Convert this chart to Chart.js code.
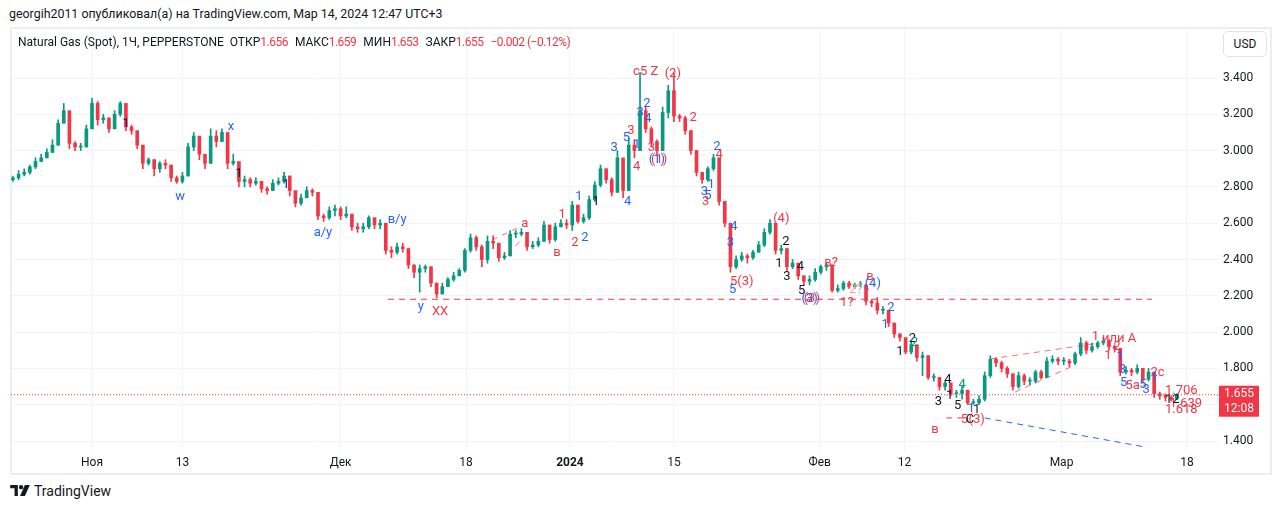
<!DOCTYPE html>
<html>
<head>
<meta charset="utf-8">
<script src="https://cdn.jsdelivr.net/npm/chart.js@4.4.1/dist/chart.umd.min.js"></script>
<style>
  body { margin: 0; width: 1281px; height: 510px; background: #fff; position: relative; overflow: hidden;
         font-family: Roboto, "Noto Sans", sans-serif; color: #131722; }
  #hdr { position: absolute; left: 9px; top: 5px; font-size: 12.4px; line-height: 18px; white-space: nowrap; }
  #frame { position: absolute; left: 10px; top: 27px; width: 1262px; height: 448px; box-sizing: border-box;
           border: 2px solid #eceef3; }
  #wrap { position: absolute; left: 11px; top: 29px; width: 1259px; height: 444px; }
  #legend { position: absolute; left: 18px; top: 33px; font-size: 12px; line-height: 18px; white-space: nowrap; z-index: 2; }
  #legend .v { color: #f23645; margin-right: 7px; letter-spacing: -0.5px; }
  #usd { position: absolute; left: 1223px; top: 31px; width: 44px; height: 26px; box-sizing: border-box;
         border: 1px solid #e0e3eb; border-radius: 5px; font-size: 12px; line-height: 24px; text-align: center; z-index: 2; background: #fff; }
  #foot { position: absolute; left: 10px; top: 482px; font-size: 14px; line-height: 18px; display: flex; align-items: center; gap: 4px; }
</style>
</head>
<body>
<div id="hdr">georgih2011 опубликовал(а) на TradingView.com, Мар 14, 2024 12:47 UTC+3</div>
<div id="frame"></div>
<div id="wrap"><canvas id="chart" width="1259" height="444"></canvas></div>
<div id="legend">Natural Gas (Spot), 1Ч, PEPPERSTONE&nbsp;&nbsp;ОТКР<span class="v">1.656</span>МАКС<span class="v">1.659</span>МИН<span class="v">1.653</span>ЗАКР<span class="v">1.655</span><span class="v">−0.002 (−0.12%)</span></div>
<div id="usd">USD</div>
<div id="foot">
  <svg width="20" height="12" viewBox="0 0 36 22"><path d="M0 0h14v20H8V6H0z M16 4a4 4 0 1 0 8 0a4 4 0 1 0 -8 0z M27 0h9l-9 20h-9z" fill="#131722"/></svg>
  <span>TradingView</span>
</div>
<script>
// hourly NG candles, sampled every half trading day (Nov 1 = day 0)
const firstDay = -7;
const step = 0.5;
const firstOpen = 2.84;

const closes = [
  2.85, 2.87, 2.88, 2.91, 2.94, 2.96, 2.99, 3.03, 3.15, 3.22,
  3.04, 3.02, 3.02, 3.12, 3.26, 3.17, 3.18, 3.12, 3.20, 3.26,
  3.13, 3.11, 3.03, 2.93, 2.95, 2.90, 2.93, 2.92, 2.85, 2.83,
  2.86, 3.02, 3.08, 2.98, 2.93, 3.08, 3.05, 3.10, 2.93, 2.94,
  2.83, 2.84, 2.82, 2.83, 2.79, 2.78, 2.82, 2.83, 2.86, 2.78,
  2.71, 2.74, 2.78, 2.77, 2.64, 2.63, 2.67, 2.68, 2.64, 2.65,
  2.58, 2.57, 2.58, 2.63, 2.59, 2.60, 2.45, 2.44, 2.47, 2.46,
  2.37, 2.33, 2.35, 2.36, 2.27, 2.21, 2.25, 2.29, 2.31, 2.34,
  2.45, 2.52, 2.47, 2.40, 2.50, 2.49, 2.41, 2.42, 2.54, 2.54,
  2.55, 2.47, 2.48, 2.50, 2.59, 2.51, 2.58, 2.60, 2.59, 2.70,
  2.61, 2.63, 2.73, 2.81, 2.90, 2.84, 2.77, 2.96, 2.78, 3.03,
  3.00, 3.22, 3.12, 3.05, 3.00, 3.21, 3.33, 3.19, 3.18, 3.11,
  3.00, 2.88, 2.84, 2.90, 2.96, 2.72, 2.60, 2.36, 2.40, 2.42,
  2.41, 2.44, 2.48, 2.55, 2.60, 2.45, 2.46, 2.36, 2.38, 2.31,
  2.28, 2.29, 2.33, 2.36, 2.37, 2.23, 2.24, 2.27, 2.25, 2.26,
  2.26, 2.17, 2.16, 2.12, 2.12, 2.05, 1.99, 1.97, 1.89, 1.93,
  1.86, 1.87, 1.75, 1.75, 1.70, 1.72, 1.66, 1.66, 1.68, 1.61,
  1.61, 1.63, 1.76, 1.85, 1.83, 1.80, 1.77, 1.70, 1.76, 1.73,
  1.73, 1.78, 1.75, 1.84, 1.85, 1.84, 1.84, 1.83, 1.88, 1.94,
  1.90, 1.92, 1.94, 1.95, 1.92, 1.91, 1.78, 1.79, 1.78, 1.80,
  1.74, 1.78, 1.66, 1.65, 1.64, 1.63, 1.655
];
const highs = [
  2.86, 2.89, 2.90, 2.92, 2.96, 2.98, 3.01, 3.06, 3.17, 3.26,
  3.14, 3.05, 3.04, 3.14, 3.29, 3.27, 3.20, 3.18, 3.22, 3.27,
  3.22, 3.14, 3.08, 3.03, 2.96, 2.95, 2.94, 2.95, 2.92, 2.86,
  2.88, 3.04, 3.10, 3.07, 2.98, 3.12, 3.11, 3.12, 3.08, 2.98,
  2.93, 2.86, 2.85, 2.85, 2.83, 2.80, 2.84, 2.85, 2.88, 2.86,
  2.77, 2.76, 2.80, 2.79, 2.76, 2.65, 2.69, 2.70, 2.69, 2.69,
  2.65, 2.60, 2.60, 2.64, 2.63, 2.62, 2.60, 2.47, 2.49, 2.49,
  2.46, 2.37, 2.37, 2.37, 2.36, 2.27, 2.27, 2.30, 2.33, 2.35,
  2.46, 2.54, 2.53, 2.48, 2.53, 2.53, 2.48, 2.44, 2.56, 2.56,
  2.57, 2.55, 2.50, 2.52, 2.61, 2.59, 2.60, 2.62, 2.62, 2.72,
  2.69, 2.65, 2.75, 2.83, 2.92, 2.90, 2.85, 3.00, 2.92, 3.07,
  3.06, 3.43, 3.24, 3.13, 3.06, 3.24, 3.36, 3.43, 3.20, 3.19,
  3.11, 3.00, 2.88, 2.91, 2.98, 2.96, 2.72, 2.60, 2.42, 2.44,
  2.43, 2.45, 2.50, 2.57, 2.62, 2.60, 2.48, 2.46, 2.40, 2.38,
  2.31, 2.31, 2.35, 2.37, 2.38, 2.37, 2.26, 2.28, 2.28, 2.27,
  2.28, 2.26, 2.18, 2.19, 2.14, 2.12, 2.05, 1.99, 1.96, 1.95,
  1.93, 1.89, 1.87, 1.77, 1.75, 1.73, 1.72, 1.68, 1.70, 1.68,
  1.63, 1.65, 1.78, 1.87, 1.86, 1.84, 1.81, 1.77, 1.78, 1.77,
  1.75, 1.79, 1.79, 1.86, 1.87, 1.86, 1.86, 1.85, 1.89, 1.97,
  1.95, 1.94, 1.95, 1.97, 1.96, 1.93, 1.91, 1.81, 1.80, 1.82,
  1.80, 1.80, 1.78, 1.67, 1.66, 1.65, 1.66
];
const lows = [
  2.83, 2.84, 2.86, 2.87, 2.90, 2.94, 2.96, 2.99, 3.03, 3.17,
  3.01, 3.00, 3.00, 3.02, 3.12, 3.14, 3.15, 3.10, 3.12, 3.19,
  3.11, 3.09, 3.01, 2.90, 2.92, 2.86, 2.88, 2.90, 2.83, 2.82,
  2.82, 2.86, 3.00, 2.95, 2.90, 2.93, 3.02, 3.05, 2.90, 2.92,
  2.80, 2.80, 2.80, 2.81, 2.77, 2.76, 2.78, 2.81, 2.82, 2.75,
  2.69, 2.70, 2.74, 2.75, 2.62, 2.61, 2.62, 2.64, 2.62, 2.63,
  2.56, 2.55, 2.55, 2.57, 2.57, 2.57, 2.43, 2.41, 2.43, 2.44,
  2.35, 2.30, 2.22, 2.33, 2.25, 2.19, 2.21, 2.25, 2.28, 2.31,
  2.33, 2.44, 2.45, 2.36, 2.38, 2.46, 2.39, 2.40, 2.42, 2.52,
  2.53, 2.45, 2.46, 2.47, 2.50, 2.49, 2.50, 2.58, 2.57, 2.56,
  2.60, 2.60, 2.62, 2.72, 2.80, 2.82, 2.75, 2.77, 2.74, 2.78,
  2.96, 3.00, 3.10, 3.02, 2.98, 3.00, 3.18, 3.16, 3.16, 3.09,
  2.98, 2.86, 2.82, 2.83, 2.89, 2.70, 2.58, 2.33, 2.35, 2.39,
  2.38, 2.40, 2.44, 2.47, 2.54, 2.43, 2.43, 2.34, 2.35, 2.29,
  2.26, 2.26, 2.28, 2.32, 2.34, 2.22, 2.22, 2.23, 2.24, 2.24,
  2.25, 2.15, 2.14, 2.10, 2.10, 2.03, 1.97, 1.95, 1.88, 1.88,
  1.84, 1.76, 1.74, 1.73, 1.68, 1.68, 1.65, 1.64, 1.63, 1.60,
  1.60, 1.60, 1.62, 1.75, 1.81, 1.78, 1.75, 1.68, 1.69, 1.71,
  1.71, 1.72, 1.74, 1.75, 1.83, 1.82, 1.82, 1.81, 1.82, 1.87,
  1.88, 1.89, 1.91, 1.93, 1.90, 1.89, 1.76, 1.77, 1.76, 1.77,
  1.72, 1.73, 1.64, 1.63, 1.62, 1.62, 1.63
];

// axes
const xMin = -7.17, xMax = 99.65;
const yMin = 1.3394, yMax = 3.670;
const dayTicks = [0, 8, 22, 33.1, 42.3, 51.5, 64.4, 71.9, 85.8, 96.9];
const dayLabels = ['Ноя', '13', 'Дек', '18', '2024', '15', 'Фев', '12', 'Мар', '18'];
const priceTicks = [1.4, 1.6, 1.8, 2.0, 2.2, 2.4, 2.6, 2.8, 3.0, 3.2, 3.4];
const lastTime = '12:08';

// drawn wave marks: [text, day, price, colour key]
const notes = [
  ['1', 3.01, 3.15, 'n'], ['w', 7.79, 2.744, 'b'], ['x', 12.3, 3.13, 'b'], ['1', 13.0, 2.871, 'k'],
  ['1', 17.17, 2.81, 'n'], ['а/у', 20.44, 2.546, 'b'], ['в/у', 27.0, 2.618, 'b'], ['у', 29.1, 2.138, 'b'],
  ['ХХ', 30.8, 2.111, 'r'], ['а', 38.3, 2.596, 'r'], ['в', 41.15, 2.436, 'r'], ['1', 41.6, 2.645, 'r'],
  ['2', 42.74, 2.491, 'r'], ['1', 43.1, 2.744, 'b'], ['2', 43.63, 2.518, 'b'], ['1', 44.6, 2.717, 'k'],
  ['3', 46.2, 3.014, 'b'], ['4', 47.4, 2.717, 'b'], ['5', 47.3, 3.069, 'b'], ['3', 47.7, 3.108, 'r'],
  ['1', 48.2, 3.031, 'b'], ['4', 48.2, 2.91, 'r'], ['c5 Z', 49.0, 3.433, 'r'], ['2', 49.1, 3.257, 'b'],
  ['3', 48.5, 3.207, 'b'], ['4', 49.2, 3.174, 'b'], ['3', 49.5, 3.014, 'r'], ['(1)', 50.0, 2.948, 'b'],
  ['(1)', 50.2, 2.948, 'r'], ['(2)', 51.4, 3.422, 'r'], ['2', 53.2, 3.18, 'r'], ['2', 55.3, 3.02, 'b'],
  ['4', 55.5, 2.976, 'r'], ['1', 54.8, 2.81, 'b'], ['3', 54.2, 2.772, 'b'], ['5', 54.5, 2.75, 'b'],
  ['3', 54.3, 2.717, 'r'], ['4', 56.8, 2.579, 'b'], ['3', 56.5, 2.491, 'b'], ['(4)', 61.0, 2.623, 'r'],
  ['2', 61.4, 2.496, 'k'], ['1', 60.8, 2.375, 'k'], ['3', 61.5, 2.304, 'k'], ['4', 62.7, 2.359, 'k'],
  ['5', 62.8, 2.226, 'k'], ['5(3)', 57.5, 2.276, 'r'], ['5', 56.7, 2.232, 'b'], ['(3)', 63.5, 2.182, 'b'],
  ['(3)', 63.7, 2.182, 'r'], ['в?', 65.4, 2.381, 'r'], ['в', 68.85, 2.304, 'r'], ['(4)', 69.1, 2.265, 'b'],
  ['1?', 66.8, 2.16, 'r'], ['2?', 67.6, 2.232, 'p'], ['2', 70.7, 2.133, 'b'], ['1', 70.2, 2.039, 'b'],
  ['2', 72.6, 1.962, 'k'], ['2', 72.8, 1.94, 't'], ['1', 71.5, 1.89, 'k'], ['4', 75.75, 1.736, 'k'],
  ['4', 77.0, 1.709, 't'], ['3', 74.9, 1.615, 'k'], ['1', 75.9, 1.648, 'k'], ['5', 76.6, 1.593, 'k'],
  ['1', 77.8, 1.576, 'b'], ['1', 78.3, 1.571, 'k'], ['5', 77.2, 1.516, 'r'], ['C', 77.7, 1.516, 'k'],
  ['(3)', 78.3, 1.516, 'r'], ['в', 74.6, 1.461, 'r'], ['1', 88.8, 1.973, 'r'], ['или А', 90.9, 1.962, 'r'],
  ['1', 89.9, 1.868, 'r'], ['2', 90.7, 1.918, 'r'], ['1', 91.0, 1.863, 'b'], ['3', 91.2, 1.791, 'b'],
  ['5', 91.3, 1.72, 'b'], ['5а', 92.1, 1.703, 'r'], ['5', 93.0, 1.709, 'b'], ['3', 93.3, 1.681, 'b'],
  ['2с', 94.3, 1.775, 'r'], ['1', 94.0, 1.747, 'b'], ['1.706', 96.4, 1.676, 'r'], ['1.639', 96.8, 1.604, 'r'],
  ['1.618', 96.4, 1.571, 'r'], ['12', 95.6, 1.626, 'k']
];
const noteColors = { b: '#2962ff', n: '#1a237e', r: '#f23645', k: '#131722', t: '#089981', p: '#f5a3ab' };

// dashed trend lines: [day1, price1, day2, price2, colour]
const trendLines = [
  [26.2, 2.181, 93.8, 2.181, '#f23645'],
  [79.0, 1.527, 93.2, 1.367, '#2962ff'],
  [79.5, 1.852, 89.2, 1.940, 'rgba(242,54,69,0.7)'],
  [81.7, 1.670, 86.8, 1.813, 'rgba(242,54,69,0.7)'],
  [35.4, 2.507, 38.0, 2.585, 'rgba(242,54,69,0.7)'],
  [36.8, 2.430, 37.9, 2.502, 'rgba(242,54,69,0.7)'],
  [75.6, 1.527, 77.0, 1.527, '#f23645']
];

const UP = '#089981', DOWN = '#f23645';
const days = closes.map((c, i) => firstDay + i * step);
const opens = closes.map((c, i) => i === 0 ? firstOpen : closes[i - 1]);
const colors = closes.map((c, i) => c >= opens[i] ? UP : DOWN);
const lastClose = closes[closes.length - 1];

const lineSets = trendLines.map(([d1, p1, d2, p2, col]) => ({
  type: 'line',
  data: [{ x: d1, y: p1 }, { x: d2, y: p2 }],
  borderColor: col, borderWidth: 1, borderDash: [6, 5],
  pointRadius: 0, fill: false, order: 1
}));

const notesPlugin = {
  id: 'notes',
  afterDatasetsDraw(chart) {
    const { ctx, scales: { x, y } } = chart;
    ctx.save();
    ctx.font = '13px Roboto';
    ctx.textAlign = 'center';
    ctx.textBaseline = 'middle';
    notes.forEach(([t, d, p, c]) => {
      ctx.fillStyle = noteColors[c];
      ctx.fillText(t, x.getPixelForValue(d), y.getPixelForValue(p));
    });
    ctx.restore();
  },
  afterDraw(chart) {
    // last price badge on the price scale
    const { ctx, chartArea, scales: { y } } = chart;
    const py = y.getPixelForValue(lastClose);
    const left = chartArea.right + 1;
    ctx.save();
    ctx.fillStyle = DOWN;
    ctx.fillRect(left, py - 9, 40, 31);
    ctx.fillStyle = '#fff';
    ctx.font = '12px Roboto';
    ctx.textAlign = 'center';
    ctx.textBaseline = 'middle';
    ctx.fillText(lastClose.toFixed(3), left + 20, py - 1);
    ctx.fillText(lastTime, left + 20, py + 14);
    ctx.restore();
  }
};

Chart.defaults.font.family = 'Roboto';
Chart.defaults.font.size = 12;
Chart.defaults.color = '#131722';

new Chart(document.getElementById('chart'), {
  type: 'bar',
  data: {
    datasets: [
      ...lineSets,
      {
        type: 'line',
        data: [{ x: xMin, y: lastClose }, { x: xMax, y: lastClose }],
        borderColor: DOWN, borderWidth: 1, borderDash: [1, 2],
        pointRadius: 0, fill: false, order: 1
      },
      {
        data: closes.map((c, i) => ({ x: days[i], y: [opens[i], c] })),
        backgroundColor: colors, barThickness: 3, minBarLength: 1,
        grouped: false, order: 2
      },
      {
        data: closes.map((c, i) => ({ x: days[i], y: [lows[i], highs[i]] })),
        backgroundColor: colors, barThickness: 1,
        grouped: false, order: 3
      }
    ]
  },
  options: {
    responsive: false,
    animation: false,
    layout: { padding: 0 },
    plugins: { legend: { display: false }, tooltip: { enabled: false } },
    scales: {
      x: {
        type: 'linear', min: xMin, max: xMax, offset: false,
        grid: { color: '#f0f3fa', drawTicks: false, offset: false },
        border: { display: false },
        afterBuildTicks: s => { s.ticks = dayTicks.map(v => ({ value: v })); },
        afterFit: s => { s.height = 21; s.paddingLeft = 0; s.paddingRight = 0; },
        ticks: {
          padding: 4, maxRotation: 0, autoSkip: false,
          callback: (v, i) => dayLabels[i],
          font: c => ({ size: 12, weight: dayLabels[c.index] === '2024' ? 'bold' : 'normal' })
        }
      },
      y: {
        position: 'right', min: yMin, max: yMax,
        grid: { color: '#f0f3fa', drawTicks: false },
        border: { display: false },
        afterBuildTicks: s => { s.ticks = priceTicks.map(v => ({ value: v })); },
        afterFit: s => { s.width = 52; s.paddingTop = 0; s.paddingBottom = 0; },
        ticks: { padding: 5, callback: v => v.toFixed(3) }
      }
    }
  },
  plugins: [notesPlugin]
});
</script>
</body>
</html>
